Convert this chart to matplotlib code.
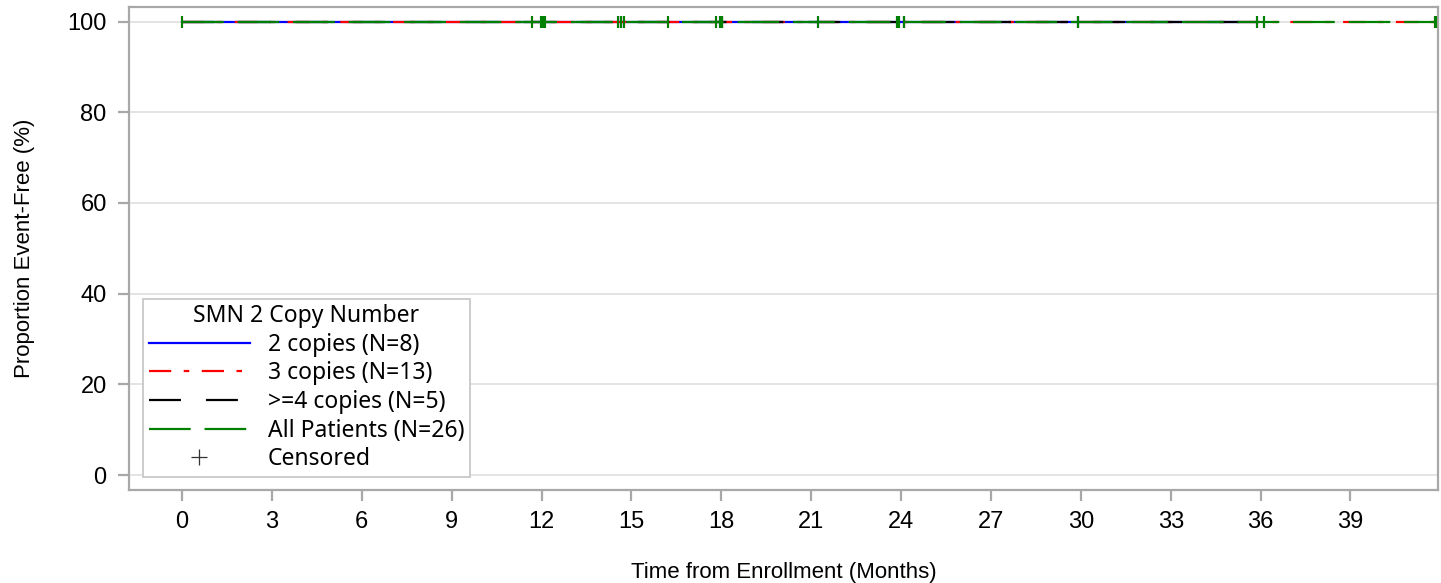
import matplotlib
matplotlib.use("Agg")
import matplotlib.pyplot as plt
from matplotlib.lines import Line2D
import numpy as np

plt.rcParams['font.family'] = ['Noto Sans', 'DejaVu Sans']
plt.rcParams['lines.scale_dashes'] = False
AXFONT = ['Liberation Sans', 'DejaVu Sans']

# Censoring times (months) per group; no events -> survival stays at 100%
censor_2 = [11.98, 14.66, 17.94, 21.22, 23.94, 24.11, 29.9, 35.88]
censor_3 = [0.0, 11.68, 12.04, 12.12, 14.55, 14.74, 16.22, 17.81, 18.03, 24.11, 29.9, 41.81, 41.86]
censor_4 = [12.04, 14.66, 18.03, 23.86, 36.1]
censor_all = sorted(censor_2 + censor_3 + censor_4)
survival = 100.0

groups = [
    ("2 copies (N=8)", censor_2, "#0000ff", "-"),
    ("3 copies (N=13)", censor_3, "#ff0000", (0, (16, 9, 4, 9))),
    (">=4 copies (N=5)", censor_4, "#000000", (0, (23, 18))),
    ("All Patients (N=26)", censor_all, "#008000", (0, (30, 10))),
]

xticks = list(range(0, 40, 3))
yticks = [0, 20, 40, 60, 80, 100]

fig = plt.figure(figsize=(14.41, 5.83), dpi=100)
ax = fig.add_axes([0.0895, 0.1595, 0.9084, 0.8285])

handles = []
for label, times, color, ls in groups:
    tmax = max(times)
    ax.plot([0, tmax], [survival, survival], color=color, linestyle=ls, lw=1.6, zorder=3)
    ax.plot(times, [survival] * len(times), linestyle='none', marker='|', markersize=9,
            markeredgewidth=1.5, color=color, zorder=4)
    handles.append(Line2D([], [], color=color, linestyle=ls, lw=1.6, label=label))
handles.append(Line2D([], [], color='#333333', linestyle='none', marker='+', markersize=11,
                      markeredgewidth=0.9, label='Censored'))

ax.set_xlim(-1.77, 41.92)
ax.set_ylim(-3.3, 103.2)
ax.set_xticks(xticks)
ax.set_yticks(yticks)
ax.yaxis.grid(True, color='#e4e4e4', lw=1.4, zorder=0)
ax.set_axisbelow(True)
for s in ax.spines.values():
    s.set_color('#a8a8a8')
    s.set_linewidth(1.6)
ax.tick_params(axis='both', colors='#a8a8a8', labelcolor='black', length=8, width=1.6,
               labelsize=17, direction='out')
ax.tick_params(axis='x', pad=7)
ax.tick_params(axis='y', pad=8)
for lab in ax.get_xticklabels() + ax.get_yticklabels():
    lab.set_family(AXFONT)
ax.set_xlabel('Time from Enrollment (Months)', fontsize=16, labelpad=21, family=AXFONT)
ax.set_ylabel('Proportion Event-Free (%)', fontsize=16, labelpad=23, family=AXFONT)

leg = ax.legend(handles=handles, title='SMN 2 Copy Number', loc='lower left',
                bbox_to_anchor=(0.0107, 0.027), fontsize=16.5, title_fontsize=16.5,
                handlelength=4.4, handletextpad=0.8, labelspacing=0.2,
                borderpad=0.25, borderaxespad=0, fancybox=False, framealpha=1,
                edgecolor='#cccccc')
leg.get_frame().set_linewidth(1.4)

fig.savefig('out.png', dpi=100)
